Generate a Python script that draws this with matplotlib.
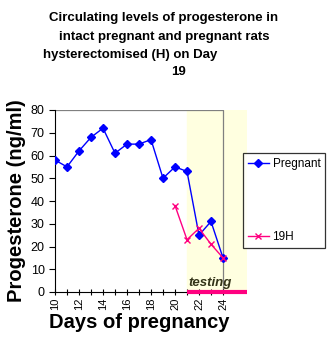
import matplotlib
matplotlib.use("Agg")
import matplotlib.pyplot as plt

# data
days = [10, 11, 12, 13, 14, 15, 16, 17, 18, 19, 20, 21, 22, 23, 24]
pregnant = [58, 55, 62, 68, 72, 61, 65, 65, 67, 50, 55, 53, 25, 31, 15]
days_h = [20, 21, 22, 23, 24]
hyst_19 = [38, 23, 28, 21, 15]
tick_days = list(range(10, 25))
tick_labels = [str(d) if d % 2 == 0 else "" for d in tick_days]

plt.rcParams['font.family'] = ['Liberation Sans', 'DejaVu Sans']

fig = plt.figure(figsize=(3.27, 3.40), dpi=100)
ax = fig.add_axes([55 / 327, 48 / 340, 192 / 327, 182 / 340])

# testing window
ax.axvspan(21, 26, color='#FFFFE0', zorder=0)
ax.plot([21, 26], [0, 0], color='#FF0080', lw=3, solid_capstyle='butt', zorder=4, clip_on=False)
ax.text(21.1, 2.5, "testing", fontsize=9.5, fontweight='bold', style='italic', color='#333318')

# plot area frame
ax.plot([10, 24, 24], [80, 80, 0], color='#808080', lw=0.9, zorder=1)

l1, = ax.plot(days, pregnant, color='#0000FF', marker='D', ms=4.5, lw=1, label='Pregnant', zorder=3)
l2, = ax.plot(days_h, hyst_19, color='#FF0080', marker='x', ms=4, lw=1, mew=1, label='19H', zorder=3)

ax.set_xlim(10, 26)
ax.set_ylim(0, 80)
ax.spines['top'].set_visible(False)
ax.spines['right'].set_visible(False)
ax.spines['bottom'].set_bounds(10, 24)
ax.set_xticks(tick_days)
ax.set_xticklabels(tick_labels, rotation=90, fontsize=8)
ax.set_yticks(range(0, 81, 10))
ax.tick_params(axis='y', labelsize=9, length=4, direction='out')
ax.tick_params(axis='x', length=4, direction='inout', pad=2)

ax.set_ylabel("Progesterone (ng/ml)", fontsize=14.5, fontweight='bold', labelpad=3)
fig.text(139 / 327, 1 - 323 / 340, "Days of pregnancy", ha='center', va='center',
         fontsize=14.5, fontweight='bold')

title_lines = [
    ("Circulating levels of progesterone in", 164, 18),
    ("intact pregnant and pregnant rats", 164, 37),
    ("hysterectomised (H) on Day", 130, 55),
    ("19", 178, 72),
]
for txt, xc, yc in title_lines:
    fig.text(xc / 327, 1 - yc / 340, txt, ha='center', va='center', fontsize=9.5, fontweight='bold')

leg = fig.legend([l1, l2], ['Pregnant', '19H'], loc='upper left', bbox_to_anchor=(243 / 327, 1 - 153 / 340),
                 fontsize=8.5, frameon=True, fancybox=False, edgecolor='black', labelspacing=5.2,
                 handlelength=1.8, borderpad=0.4, handletextpad=0.3, borderaxespad=0)
leg.get_frame().set_linewidth(0.9)

fig.savefig("out.png", dpi=100)
